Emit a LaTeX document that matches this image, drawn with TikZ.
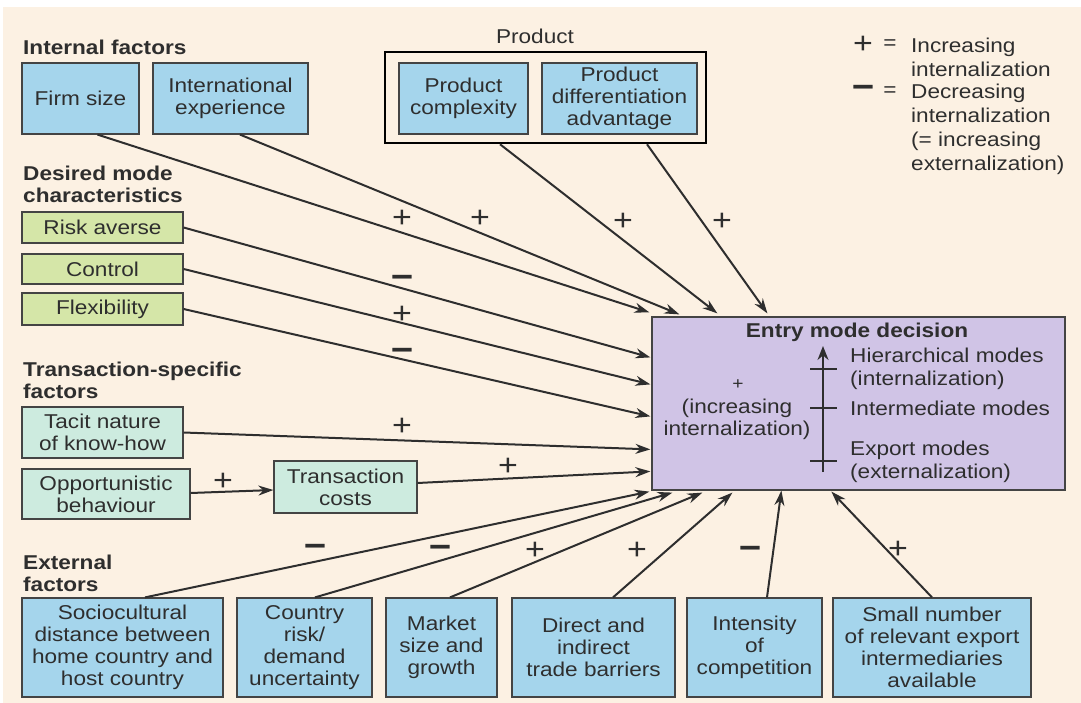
\documentclass[tikz,border=0pt]{standalone}
\usepackage{fontspec}
\setmainfont{Liberation Sans}[FakeStretch=1.13]
\usetikzlibrary{arrows.meta,calc}

\definecolor{paper}{HTML}{FCF1E3}
\definecolor{ink}{HTML}{2E2E2E}
\definecolor{edge}{HTML}{444444}
\definecolor{boxblue}{HTML}{A5D5EC}
\definecolor{boxgreen}{HTML}{D5E6A8}
\definecolor{boxmint}{HTML}{CDEBDF}
\definecolor{boxpurple}{HTML}{D0C4E6}

\begin{document}
\begin{tikzpicture}[x=1pt,y=-1pt,
  every node/.style={font=\fontsize{20}{22}\selectfont, text=ink},
  box/.style={draw=edge, line width=1.2pt, inner sep=0pt, align=center},
  bluebox/.style={box, fill=boxblue},
  greenbox/.style={box, fill=boxgreen},
  mintbox/.style={box, fill=boxmint},
  head/.style={font=\bfseries\fontsize{20}{22}\selectfont, anchor=west, align=left, inner sep=0pt},
  conn/.style={draw=ink, line width=2pt, -{Stealth[length=15pt,width=10pt]}},
  plus/.style={font=\fontsize{30}{30}\selectfont, inner sep=0pt},
  minus/.style={font=\bfseries\fontsize{34}{34}\selectfont, inner sep=0pt},
]
\useasboundingbox (0,0) rectangle (1081,703);
\fill[white] (0,0) rectangle (1081,703);
\fill[paper] (3,7) rectangle (1081,703);

% ---- headings ----
\node[head] (hInternal) at (23,47) {Internal factors};
\node[head] (hDesired) at (23,184) {Desired mode\\characteristics};
\node[head] (hTrans) at (23,380) {Transaction-specific\\factors};
\node[head] (hExternal) at (23,573) {External\\factors};
\node (hProduct) at (535,36) {Product};

% ---- legend ----
\node[plus] (lgPlus) at (863,45) {+};
\node (lgEq1) at (890,45) {=};
\node[anchor=west, align=left, inner sep=0pt, font=\fontsize{20}{24}\selectfont] (lgInc) at (911,57) {Increasing\\internalization};
\node[minus] (lgMinus) at (863,92) {−};
\node (lgEq2) at (890,92) {=};
\node[anchor=west, align=left, inner sep=0pt, font=\fontsize{20}{24}\selectfont] (lgDec) at (911,129) {Decreasing\\internalization\\(= increasing\\externalization)};

% ---- internal factors ----
\node[bluebox, minimum width=117pt, minimum height=71pt] (firm) at (80.5,98.5) {Firm size};
\node[bluebox, minimum width=155pt, minimum height=71pt] (intl) at (230.5,98.5) {International\\experience};

% ---- product ----
\node[draw=black, line width=2.5pt, minimum width=321pt, minimum height=91pt, inner sep=0pt] (prodframe) at (545.5,97.5) {};
\node[bluebox, minimum width=129pt, minimum height=71pt] (pcomp) at (463.5,98.5) {Product\\complexity};
\node[bluebox, minimum width=155pt, minimum height=71pt] (pdiff) at (619.5,98.5) {Product\\differentiation\\advantage};

% ---- desired mode characteristics ----
\node[greenbox, minimum width=161pt, minimum height=31pt] (risk) at (102.5,227.5) {Risk averse};
\node[greenbox, minimum width=161pt, minimum height=30pt] (control) at (102.5,269) {Control};
\node[greenbox, minimum width=161pt, minimum height=32pt] (flex) at (102.5,309) {Flexibility};

% ---- transaction-specific factors ----
\node[mintbox, minimum width=161pt, minimum height=51pt] (tacit) at (102.5,432.5) {Tacit nature\\of know-how};
\node[mintbox, minimum width=168pt, minimum height=50pt] (opp) at (106,494) {Opportunistic\\behaviour};
\node[mintbox, minimum width=143pt, minimum height=52pt] (tc) at (345.5,487) {Transaction\\costs};

% ---- external factors ----
\node[bluebox, minimum width=201pt, minimum height=99pt] (b1) at (122.5,647.5) {Sociocultural\\distance between\\home country and\\host country};
\node[bluebox, minimum width=135pt, minimum height=99pt] (b2) at (304.5,647.5) {Country\\risk/\\demand\\uncertainty};
\node[bluebox, minimum width=111pt, minimum height=99pt] (b3) at (441.5,647.5) {Market\\size and\\growth};
\node[bluebox, minimum width=163pt, minimum height=99pt] (b4) at (593.5,647.5) {Direct and\\indirect\\trade barriers};
\node[bluebox, minimum width=135pt, minimum height=99pt] (b5) at (754.5,647.5) {Intensity\\of\\competition};
\node[bluebox, minimum width=198pt, minimum height=99pt] (b6) at (932,647.5) {Small number\\of relevant export\\intermediaries\\available};

% ---- entry mode decision ----
\node[box, fill=boxpurple, minimum width=413pt, minimum height=173pt] (entry) at (858.5,403.5) {};
\node[font=\bfseries\fontsize{20}{22}\selectfont] (etitle) at (857,332) {Entry mode decision};
\coordinate (scaleLow) at (823,472);
\coordinate (scaleTop) at (823,346);
\draw[ink, line width=2pt, -{Stealth[length=14pt,width=11pt]}] (scaleLow) -- (scaleTop);
\foreach \yy in {369,408,461} \draw[ink, line width=2pt] (810,\yy) -- (837,\yy);
\node[anchor=west, align=left, inner sep=0pt, font=\fontsize{20}{23}\selectfont] (mHier) at (850,368.5) {Hierarchical modes\\(internalization)};
\node[anchor=west, inner sep=0pt] (mInter) at (850,408) {Intermediate modes};
\node[anchor=west, align=left, inner sep=0pt, font=\fontsize{20}{23}\selectfont] (mExport) at (850,461.5) {Export modes\\(externalization)};
\node[font=\fontsize{17}{17}\selectfont, inner sep=0pt] (ePlus) at (738,385) {+};
\node[align=center, inner sep=0pt, font=\fontsize{20}{22}\selectfont] (eInc) at (737,419) {(increasing\\internalization)};

% ---- connectors ----
\draw[conn] ($(firm.south)+(17,0)$) -- ($(entry.north west)+(-2,-4)$);
\draw[conn] ($(intl.south)+(9.5,0)$) -- ($(entry.north west)+(28,-2)$);
\draw[conn] ($(prodframe.south)+(-45.5,0)$) -- ($(entry.north west)+(66,-3)$);
\draw[conn] ($(prodframe.south)+(101.5,0)$) -- ($(entry.north west)+(116,-3)$);
\draw[conn] (risk.east) -- ($(entry.north west)+(-1,41)$);
\draw[conn] (control.east) -- ($(entry.north west)+(-1,68)$);
\draw[conn] (flex.east) -- ($(entry.north west)+(-1,100)$);
\draw[conn] (tacit.east) -- ($(entry.north west)+(-1,133)$);
\draw[conn] ($(opp.east)+(0,-1)$) -- ($(tc.west)+(0,3)$);
\draw[conn] ($(tc.east)+(0,-4)$) -- ($(entry.north west)+(-1,155)$);
\draw[conn] ($(b1.north)+(22.5,0)$) -- ($(entry.south west)+(-2,1)$);
\draw[conn] ($(b2.north)+(10.5,0)$) -- ($(entry.south west)+(21,2)$);
\draw[conn] ($(b3.north)+(8.5,0)$) -- ($(entry.south west)+(51,2)$);
\draw[conn] ($(b4.north)+(19.5,0)$) -- ($(entry.south west)+(81,2)$);
\draw[conn] ($(b5.north)+(12.5,0)$) -- ($(entry.south west)+(130,0)$);
\draw[conn] (b6.north) -- ($(entry.south west)+(180,1)$);

% ---- signs on the connectors ----
\node[plus] (sFirm) at (402,219) {+};
\node[plus] (sIntl) at (480,219) {+};
\node[plus] (sComp) at (623,222) {+};
\node[plus] (sDiff) at (722,222) {+};
\node[minus] (sRisk) at (402,282) {−};
\node[plus] (sControl) at (402,315) {+};
\node[minus] (sFlex) at (402,355) {−};
\node[plus] (sTacit) at (402,427) {+};
\node[plus] (sOpp) at (223,482) {+};
\node[plus] (sTc) at (508,467) {+};
\node[minus] (sB1) at (315,551) {−};
\node[minus] (sB2) at (440,552) {−};
\node[plus] (sB3) at (535,551) {+};
\node[plus] (sB4) at (637,551) {+};
\node[minus] (sB5) at (750,553) {−};
\node[plus] (sB6) at (898,550) {+};
\end{tikzpicture}
\end{document}
